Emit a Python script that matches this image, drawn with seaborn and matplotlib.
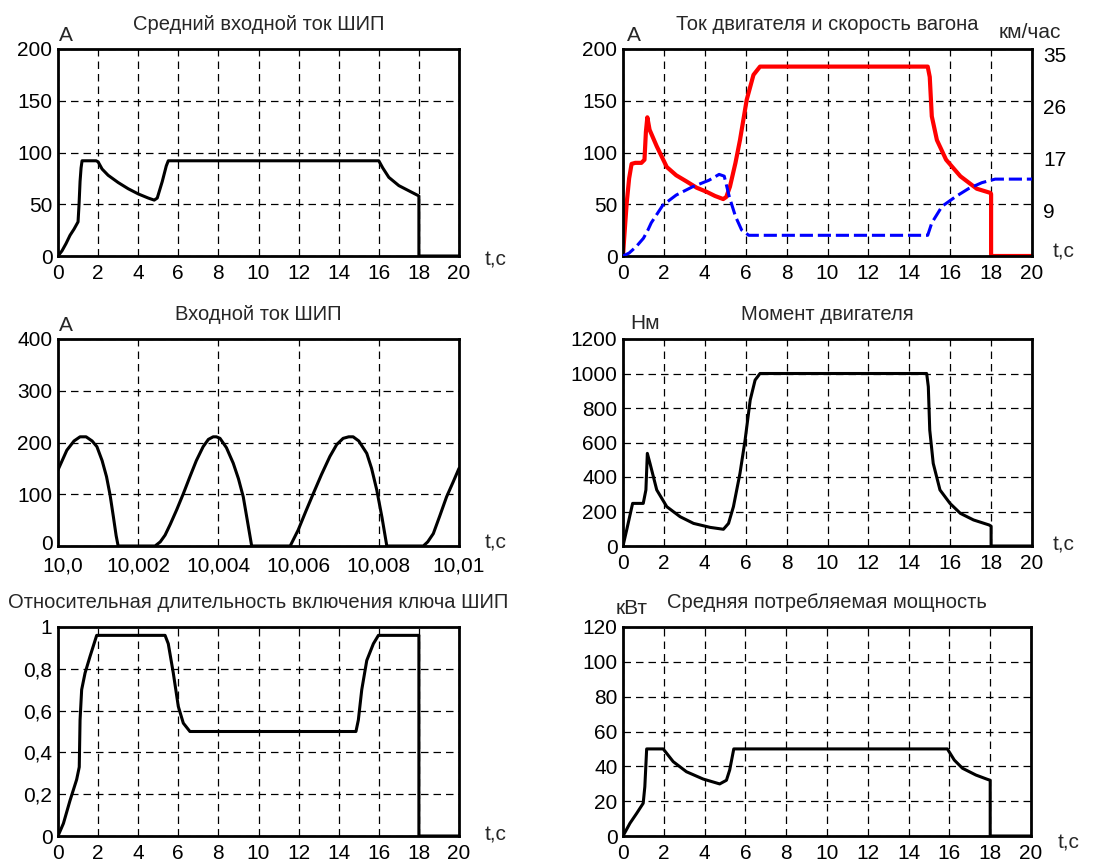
import numpy as np
import pandas as pd
import matplotlib
matplotlib.use("Agg")
import matplotlib.pyplot as plt
import matplotlib.transforms as mtransforms
import seaborn as sns

# =========================
# DATA
# =========================

# Средний входной ток ШИП, A
t_avg_in = [0, 0.2, 0.4, 0.6, 0.8, 1.0, 1.05, 1.1, 1.15, 1.2, 1.5, 1.9, 2.0, 2.2, 2.5, 3.0, 3.5,
            4.0, 4.5, 4.8, 4.95, 5.2, 5.4, 5.5, 16.0, 16.2, 16.5, 17.0, 17.5, 17.9, 18.0, 18.0, 20]
i_avg_in = [0, 5, 12, 20, 26, 33, 50, 72, 85, 92, 92, 92, 91, 84, 78, 71, 65,
            60, 56, 54, 56, 72, 87, 92, 92, 85, 76, 68, 63, 59, 58, 0, 0]

# Ток двигателя, A
t_motor = [0, 0.05, 0.18, 0.3, 0.42, 0.6, 0.9, 1.05, 1.12, 1.19, 1.3, 1.65, 2.14, 2.6, 3.11, 3.6,
           4.09, 4.5, 4.9, 5.05, 5.23, 5.5, 5.72, 6.05, 6.38, 6.7, 14.9, 15.0, 15.1, 15.35, 15.8,
           16.5, 17.3, 17.96, 18.0, 18.0, 20]
i_motor = [0, 15, 51, 75, 89, 90, 90, 93, 120, 134, 122, 106, 86, 78, 72, 66,
           62, 58, 55, 57, 67, 90, 112, 151, 175, 183, 183, 173, 135, 112, 93,
           77, 65, 61, 60, 0, 0]

# Скорость вагона, км/час
t_speed = [0, 0.3, 0.65, 1.0, 1.22, 1.38, 1.95, 2.6, 3.4, 4.2, 4.7, 4.95, 5.2, 5.5, 5.8, 6.15,
           14.9, 15.1, 15.6, 16.25, 16.9, 17.55, 18.2, 20]
v_speed = [0, 0.5, 1.6, 3.0, 4.4, 5.6, 8.6, 10.3, 11.7, 12.8, 13.8, 13.5, 10.0, 6.7, 4.4, 3.5,
           3.5, 5.6, 8.4, 10.0, 11.4, 12.4, 13.0, 13.0]
speed_ticks = [8.75, 17.5, 26.25, 35]
speed_labels = ["9", "17", "26", "35"]

# Входной ток ШИП (мгновенный), время от 10 с в мс
t_in_ms = [0, 0.22, 0.4, 0.55, 0.7, 0.85, 0.97, 1.1, 1.21, 1.3, 1.38, 1.45, 1.5,
           2.42, 2.55, 2.67, 2.8, 2.96, 3.13, 3.29, 3.45, 3.62, 3.75, 3.87, 3.95, 4.04, 4.2,
           4.37, 4.5, 4.62, 4.72, 4.83,
           5.79, 5.99, 6.18, 6.37, 6.57, 6.78, 6.95, 7.11, 7.25, 7.36, 7.5, 7.7, 7.82, 7.95,
           8.08, 8.2,
           9.11, 9.22, 9.36, 9.52, 9.69, 9.85, 10.0]
i_in = [147, 185, 203, 211, 211, 203, 192, 165, 134, 98, 57, 20, 0,
        0, 8, 21, 42, 70, 102, 134, 165, 192, 206, 211, 211, 208, 190,
        160, 130, 95, 50, 0,
        0, 31, 67, 102, 138, 173, 196, 208, 211, 211, 203, 179, 150, 108,
        55, 0,
        0, 8, 24, 58, 95, 123, 150]
t_in = [10 + ms / 1000 for ms in t_in_ms]
in_ticks = [10.0, 10.002, 10.004, 10.006, 10.008, 10.01]
in_labels = ["10,0", "10,002", "10,004", "10,006", "10,008", "10,01"]

# Момент двигателя, Нм
t_torque = [0, 0.18, 0.47, 0.99, 1.12, 1.19, 1.32, 1.65, 2.14, 2.79, 3.45, 4.26, 4.91, 5.16, 5.4,
            5.72, 5.97, 6.22, 6.46, 6.7, 14.85, 14.93, 15.0, 15.17, 15.5, 15.99, 16.5, 17.14,
            17.9, 18.0, 18.0, 20]
m_torque = [0, 93, 247, 247, 325, 537, 479, 325, 228, 170, 131, 108, 97, 131, 228,
            421, 614, 846, 962, 1000, 1000, 923, 672, 479, 325, 247, 189, 151,
            122, 115, 0, 0]

# Относительная длительность включения ключа ШИП
t_duty = [0, 0.27, 0.6, 0.93, 1.06, 1.1, 1.18, 1.35, 1.6, 1.93, 5.34, 5.5, 5.75, 6.0, 6.25, 6.58,
          14.86, 14.98, 15.15, 15.4, 15.73, 15.98, 18.0, 18.0, 20]
d_duty = [0, 0.06, 0.17, 0.27, 0.33, 0.555, 0.70, 0.78, 0.86, 0.96, 0.96, 0.92, 0.78, 0.62, 0.54,
          0.50, 0.50, 0.555, 0.70, 0.84, 0.92, 0.96, 0.96, 0, 0]
duty_ticks = [0, 0.2, 0.4, 0.6, 0.8, 1]
duty_labels = ["0", "0,2", "0,4", "0,6", "0,8", "1"]

# Средняя потребляемая мощность, кВт
t_power = [0, 0.34, 0.67, 0.99, 1.07, 1.16, 1.97, 2.46, 3.11, 3.93, 4.74, 5.07, 5.23, 5.43,
           15.9, 16.24, 16.64, 17.3, 17.87, 18.0, 18.0, 20]
p_power = [0, 7.3, 13, 18.8, 28.3, 50, 50, 42.7, 36.9, 32.7, 29.9, 32, 37.9, 50,
           50, 43.6, 38.9, 35, 32.5, 32, 0, 0]

t_ticks = list(range(0, 21, 2))

# =========================
# STYLE
# =========================

sns.set_style("white")
plt.rcParams['font.family'] = ['Liberation Sans', 'DejaVu Sans']
FS = 15      # tick labels, units
FS_T = 14.5  # titles
GRID = dict(color='black', linestyle=(0, (6, 4)), linewidth=0.9)


def style_axes(ax, xlim, ylim, xticks, yticks, xlabels=None, ylabels=None):
    ax.set_xlim(xlim)
    ax.set_ylim(ylim)
    ax.set_xticks(xticks)
    ax.set_yticks(yticks)
    if xlabels is not None:
        ax.set_xticklabels(xlabels)
    if ylabels is not None:
        ax.set_yticklabels(ylabels)
    ax.set_xlabel("")
    ax.set_ylabel("")
    ax.grid(True, **GRID)
    ax.tick_params(length=0, labelsize=FS, colors='black')
    ax.tick_params(axis='x', pad=6)
    ax.tick_params(axis='y', pad=4)
    for s in ax.spines.values():
        s.set_visible(True)
        s.set_color('black')
        s.set_linewidth(2)


def line(ax, x, y, color='black', lw=2.2, **kw):
    sns.lineplot(x=x, y=y, ax=ax, color=color, linewidth=lw,
                 estimator=None, sort=False, **kw)


fig = plt.figure(figsize=(11.11, 8.64), dpi=100)

W = 1111
H = 864


def box(x0, y0, x1, y1):
    return [x0 / W, 1 - y1 / H, (x1 - x0) / W, (y1 - y0) / H]


ax1 = fig.add_axes(box(58, 49, 459, 256))
ax2 = fig.add_axes(box(623, 49, 1032, 256))
ax3 = fig.add_axes(box(58, 339, 459, 546))
ax4 = fig.add_axes(box(623, 339, 1032, 546))
ax5 = fig.add_axes(box(58, 627, 459, 836))
ax6 = fig.add_axes(box(623, 627, 1031, 836))

# --- Средний входной ток ШИП
line(ax1, t_avg_in, i_avg_in)
style_axes(ax1, (0, 20), (0, 200), t_ticks, [0, 50, 100, 150, 200])
ax1.set_title("Средний входной ток ШИП", fontsize=FS_T, pad=14)

# --- Ток двигателя и скорость вагона
line(ax2, t_motor, i_motor, color='#ff0000', lw=3)
style_axes(ax2, (0, 20), (0, 200), t_ticks, [0, 50, 100, 150, 200])
ax2.set_title("Ток двигателя и скорость вагона", fontsize=FS_T, pad=14)
ax2b = ax2.twinx()
line(ax2b, t_speed, v_speed, color='#0000ff', lw=2.2)
ax2b.lines[-1].set_dashes((4.3, 1.6))
ax2b.set_ylim(0, 35)
ax2b.set_yticks(speed_ticks)
ax2b.set_yticklabels(speed_labels)
ax2b.set_ylabel("")
ax2b.tick_params(length=0, labelsize=FS, pad=8, colors='black')
ax2b.grid(False)
for s in ax2b.spines.values():
    s.set_visible(False)
shift = mtransforms.ScaledTranslation(0, -0.06, fig.dpi_scale_trans)
for lbl in ax2b.get_yticklabels():
    lbl.set_transform(lbl.get_transform() + shift)

# --- Входной ток ШИП
line(ax3, t_in, i_in)
style_axes(ax3, (10.0, 10.01), (0, 400), in_ticks, [0, 100, 200, 300, 400],
           xlabels=in_labels)
ax3.tick_params(axis='x', pad=7.5)
ax3.set_title("Входной ток ШИП", fontsize=FS_T, pad=14)
first = ax3.get_xticklabels()[0]
first.set_transform(first.get_transform() +
                    mtransforms.ScaledTranslation(0.05, 0, fig.dpi_scale_trans))
zero = ax3.get_yticklabels()[0]
zero.set_transform(zero.get_transform() +
                   mtransforms.ScaledTranslation(0, 0.04, fig.dpi_scale_trans))

# --- Момент двигателя
line(ax4, t_torque, m_torque)
style_axes(ax4, (0, 20), (0, 1200), t_ticks, [0, 200, 400, 600, 800, 1000, 1200])
ax4.set_title("Момент двигателя", fontsize=FS_T, pad=14)

# --- Относительная длительность включения ключа ШИП
line(ax5, t_duty, d_duty)
style_axes(ax5, (0, 20), (0, 1), t_ticks, duty_ticks, ylabels=duty_labels)
ax5.set_title("Относительная длительность включения ключа ШИП", fontsize=FS_T, pad=14)

# --- Средняя потребляемая мощность
line(ax6, t_power, p_power)
style_axes(ax6, (0, 20), (0, 120), t_ticks, [0, 20, 40, 60, 80, 100, 120])
ax6.set_title("Средняя потребляемая мощность", fontsize=FS_T, pad=14)

# --- units and axis names
ax1.text(0.02, 1.063, "А", transform=ax1.transAxes, fontsize=FS, ha='center', va='center')
ax2.text(0.027, 1.063, "А", transform=ax2.transAxes, fontsize=FS, ha='center', va='center')
ax2.text(0.995, 1.082, "км/час", transform=ax2.transAxes, fontsize=FS, ha='center', va='center')
ax3.text(0.02, 1.063, "А", transform=ax3.transAxes, fontsize=FS, ha='center', va='center')
ax4.text(0.054, 1.077, "Нм", transform=ax4.transAxes, fontsize=FS, ha='center', va='center')
ax6.text(0.02, 1.09, "кВт", transform=ax6.transAxes, fontsize=FS, ha='center', va='center')

for ax, x, y in [(ax1, 1.09, -0.02), (ax2, 1.076, 0.02), (ax3, 1.09, 0.015),
                 (ax4, 1.078, 0.005), (ax5, 1.09, 0.005), (ax6, 1.093, -0.033)]:
    ax.text(x, y, "t,c", transform=ax.transAxes, fontsize=FS, ha='center', va='center')

for ax in [ax1, ax2, ax3, ax4, ax5, ax6, ax2b]:
    leg = ax.get_legend()
    if leg is not None:
        leg.remove()

fig.savefig("out.png", dpi=100)
